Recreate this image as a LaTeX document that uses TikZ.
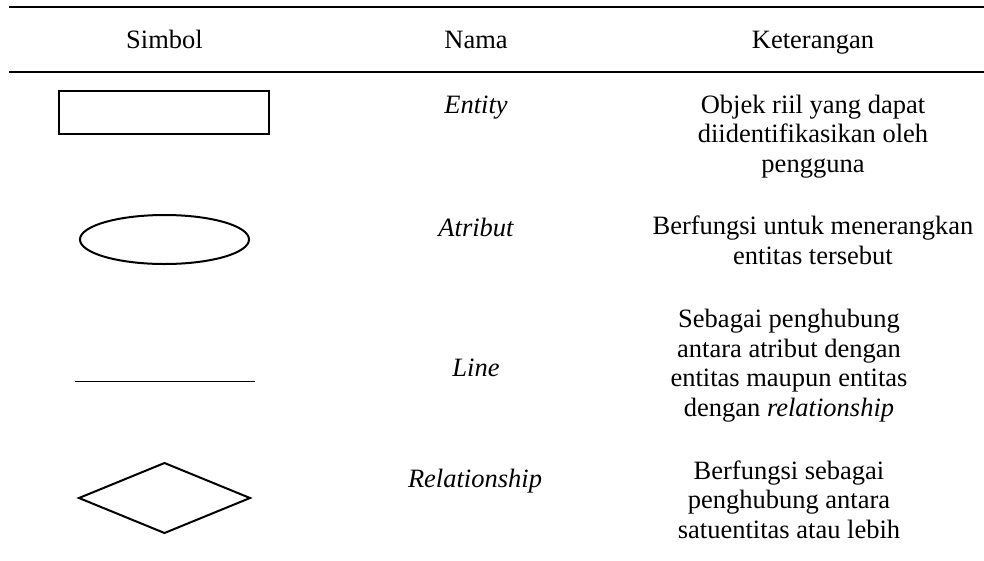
\documentclass[tikz,border=0pt]{standalone}
\usepackage{fontspec}
\setmainfont{Liberation Serif}
\usepackage{tikz}
\usetikzlibrary{calc}
\tikzset{
	colhead/.style={anchor=base, font=\fontsize{26.5}{29.5}\selectfont},
	symname/.style={anchor=base, font=\fontsize{26.5}{29.5}\selectfont\itshape},
	symnote/.style={anchor=base, align=center, inner sep=0pt, font=\fontsize{26.5}{29.5}\selectfont},
	symline/.style={line width=2pt, line join=miter},
}

\begin{document}
\begin{tikzpicture}[x=1pt, y=-1pt]
			%%%%% START %%%%%
			\useasboundingbox (0, 0) rectangle (984, 560);
			
			% rules of the table
			\draw[line width=2.2pt] (9, 7) -- (984, 7);
			\draw[line width=2pt] (9, 72) -- (984, 72);
			
			% header
			\node[colhead] (hsimbol) at (164.5, 48) {Simbol};
			\node[colhead] (hnama) at (476, 48) {Nama};
			\node[colhead] (hket) at (813, 48) {Keterangan};
			
			% symbols
			\draw[symline] (59, 91) rectangle (269, 134);
			\draw[symline] (164.5, 239.5) ellipse (84.5 and 24.5);
			\draw[line width=1pt] (75, 381) -- (255, 381);
			\draw[symline] (79, 498) -- (164.5, 463) -- (250, 498) -- (164.5, 533) -- cycle;
			
			% names
			\node[symname] (nentity) at (476, 113) {Entity};
			\node[symname] (natribut) at (476, 236) {Atribut};
			\node[symname] (nline) at (476, 376) {Line};
			\node[symname] (nrel) at (475, 487) {Relationship};
			
			% notes (base = last line)
			\node[symnote] (kentity) at (813, 172) {Objek riil yang dapat\\diidentifikasikan oleh\\pengguna};
			\node[symnote] (katribut) at (813, 264) {Berfungsi untuk menerangkan\\entitas tersebut};
			\node[symnote] (kline) at (789, 416) {Sebagai penghubung\\antara atribut dengan\\entitas maupun entitas\\dengan \textit{relationship}};
			\node[symnote] (krel) at (789, 538) {Berfungsi sebagai\\penghubung antara\\satuentitas atau lebih};
			%%%%% END %%%%%
\end{tikzpicture}
\end{document}
